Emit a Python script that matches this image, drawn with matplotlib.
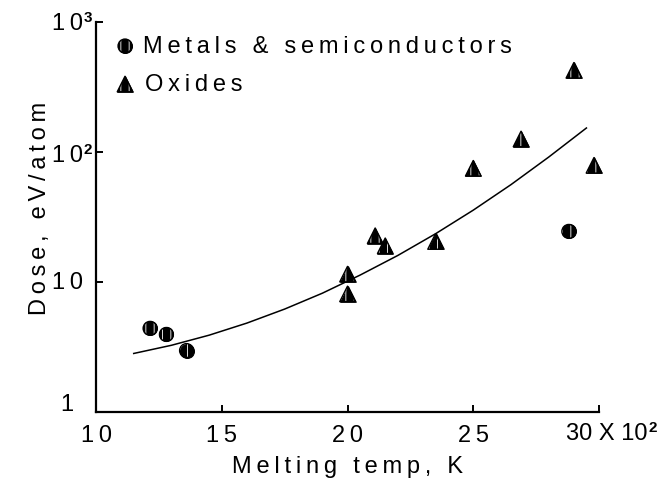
import matplotlib
matplotlib.use('Agg')
import matplotlib.pyplot as plt

plt.rcParams['font.family'] = ['Liberation Sans', 'DejaVu Sans']
plt.rcParams['hatch.linewidth'] = 0.7

# ------------------------------------------------------------
# Data
# ------------------------------------------------------------
metal_temp = [12.15, 12.8, 13.6, 28.8]
metal_dose = [4.4, 3.95, 2.97, 24.5]

oxide_temp = [20.0, 20.0, 21.1, 21.5, 23.5, 25.0, 26.9, 29.0, 29.8]
oxide_dose = [11.5, 8.1, 22.7, 19.0, 20.5, 75.0, 126.0, 425.0, 79.0]

fit_temp = [11.5, 13.0, 14.5, 16.0, 17.5, 19.0, 20.5, 22.0, 23.5, 25.0, 26.5, 28.0, 29.5]
fit_dose = [2.82, 3.26, 3.90, 4.83, 6.19, 8.2, 11.3, 16.0, 23.5, 35.7, 56.1, 91.4, 153.0]

x_ticks = [10, 15, 20, 25, 30]
x_ticklabels = ['10', '15', '20', '25', '']
y_ticks = [1, 10, 100, 1000]

W, H = 667, 482


def px(x, y):
    # pixel (from top-left) -> figure fraction
    return x / W, 1 - y / H


def track(s):
    # wide letter spacing as in the original
    return '\u2009'.join(s)


FS = 17

fig = plt.figure(figsize=(W / 100, H / 100), dpi=100)
ax = fig.add_axes([96 / W, (H - 412) / H, (599 - 96) / W, (412 - 22) / H])
ax.set_yscale('log')
ax.set_xlim(10, 30)
ax.set_ylim(1, 1000)

for s in ['top', 'right']:
    ax.spines[s].set_visible(False)
for s in ['left', 'bottom']:
    ax.spines[s].set_linewidth(1.6)


def striped(axis, xs, ys, marker, size, transform=None):
    kw = {} if transform is None else dict(transform=transform)
    axis.scatter(xs, ys, marker=marker, s=size, facecolors='black',
                 edgecolors='black', linewidths=0.8, zorder=3, clip_on=False, **kw)
    axis.scatter(xs, ys, marker=marker, s=size, facecolors='none',
                 edgecolors='#dddddd', hatch='||', linewidths=0, zorder=4,
                 clip_on=False, **kw)
    axis.scatter(xs, ys, marker=marker, s=size, facecolors='none',
                 edgecolors='black', linewidths=1.0, zorder=5, clip_on=False, **kw)


# fitted trend curve
ax.plot(fit_temp, fit_dose, color='black', linewidth=1.1, zorder=2)

striped(ax, metal_temp, metal_dose, 'o', 100)
striped(ax, oxide_temp, oxide_dose, '^', 125)

# ticks
ax.set_xticks(x_ticks)
ax.set_xticklabels([track(t) for t in x_ticklabels], fontsize=FS)
ax.set_yticks(y_ticks)
ax.set_yticklabels([])
ax.minorticks_off()
ax.tick_params(axis='both', direction='in', length=5, width=1.4, color='black')
ax.tick_params(axis='x', pad=9)

# x label
ax.set_xlabel(track('Melting temp, K'), fontsize=FS, labelpad=7)

# y label
fig.text(*px(40, 208), track('Dose, eV/atom'), rotation=90, ha='center',
         va='center', fontsize=FS)

fig.canvas.draw()
renderer = fig.canvas.get_renderer()


def with_sup(x, y, base, sup, ha='center', size=FS):
    t = fig.text(*px(x, y), base, ha=ha, va='center', fontsize=size)
    bb = t.get_window_extent(renderer)
    fig.text((bb.x1 + 1) / W, (bb.y1 - 5) / H, sup, ha='left', va='center',
             fontsize=11, fontweight='bold')


# y tick labels
fig.text(*px(67, 405), '1', ha='center', va='center', fontsize=FS)
fig.text(*px(67, 283), track('10'), ha='center', va='center', fontsize=FS)
with_sup(67, 156, track('10'), '2')
with_sup(67, 24, track('10'), '3')

# "30 X 10^2" label at the end of the x axis
with_sup(566, 434, '30 X 10', '2', ha='left', size=FS)

# legend
striped(ax, [px(125, 46)[0]], [px(125, 46)[1]], 'o', 100, transform=fig.transFigure)
fig.text(*px(143, 47), track('Metals & semiconductors'), ha='left', va='center',
         fontsize=FS)
striped(ax, [px(125, 84)[0]], [px(125, 84)[1]], '^', 125, transform=fig.transFigure)
fig.text(*px(145, 85), track('Oxides'), ha='left', va='center', fontsize=FS)

fig.savefig('out.png', dpi=100)
